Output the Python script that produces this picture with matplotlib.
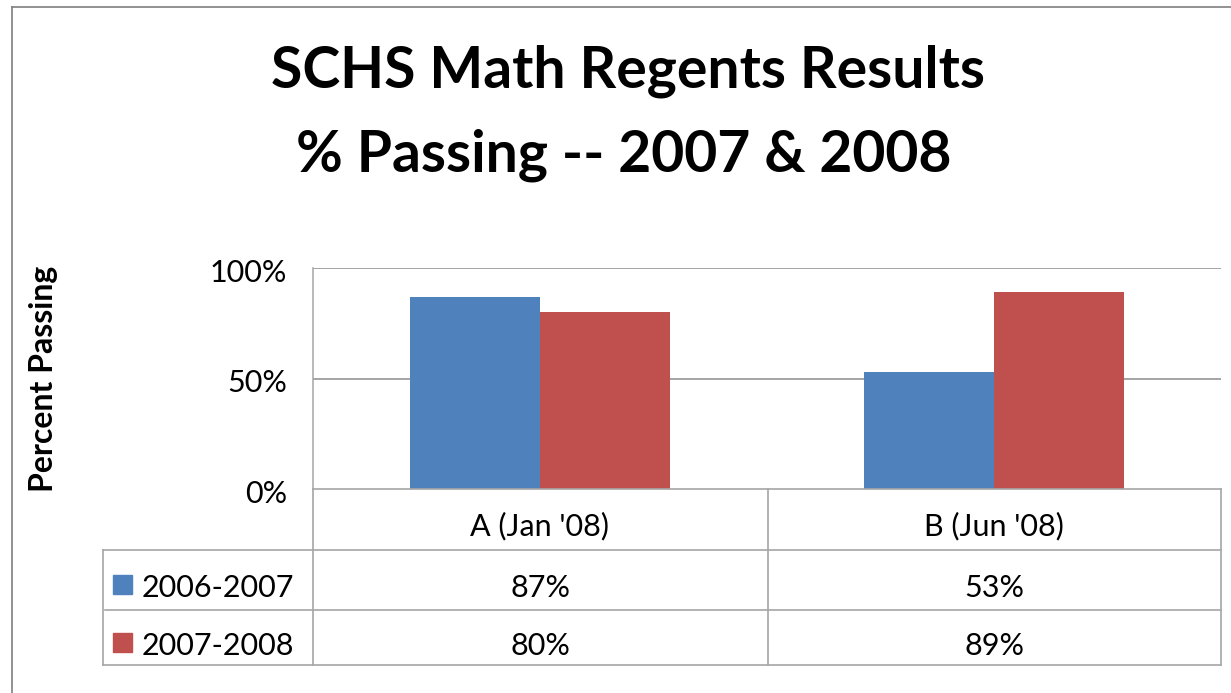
import matplotlib.pyplot as plt
import matplotlib.transforms as mtransforms
from matplotlib.lines import Line2D
from matplotlib.patches import Rectangle

categories = ["A (Jan '08)", "B (Jun '08)"]
series_names = ["2006-2007", "2007-2008"]
values_0607 = [87, 53]
values_0708 = [80, 89]
y_ticks = [0, 50, 100]
tick_labels = ["0%", "50%", "100%"]

colors = ["#4F81BD", "#C0504D"]
grid_col = "#8c8c8c"
table_col = "#a6a6a6"

plt.rcParams['font.family'] = ['Lato', 'DejaVu Sans']

W, H = 1231, 693
fig = plt.figure(figsize=(W / 100, H / 100), dpi=100)
fig.patch.set_facecolor('white')


def fx(px):
    return px / W


def fy(py):
    return 1 - py / H


# plot area in pixels
left, right, top, bottom = 313, 1221, 268, 489
ax = fig.add_axes([fx(left), fy(bottom), fx(right - left), (bottom - top) / H])

bar_w = 0.286
xs = list(range(len(categories)))
ax.bar([x - bar_w / 2 for x in xs], values_0607, width=bar_w, color=colors[0], zorder=3)
ax.bar([x + bar_w / 2 for x in xs], values_0708, width=bar_w, color=colors[1], zorder=3)

ax.set_xlim(-0.5, len(categories) - 0.5)
ax.set_ylim(0, 100)
ax.set_xticks([])
ax.set_yticks(y_ticks)
ax.set_yticklabels([])
ax.tick_params(axis='y', length=0)
for t in y_ticks[1:]:
    ax.axhline(t, color=grid_col, lw=1.1, zorder=1)
for s in ['top', 'right', 'bottom']:
    ax.spines[s].set_visible(False)
ax.spines['left'].set_color(table_col)
ax.spines['left'].set_linewidth(1.1)

# tick labels
ytr = mtransforms.blended_transform_factory(fig.transFigure, ax.transData)
ytr = mtransforms.offset_copy(ytr, fig=fig, y=-14, units='dots')
for t, lab in zip(y_ticks, tick_labels):
    fig.text(fx(287), t, lab, transform=ytr, ha='right', va='baseline',
             fontsize=22, color='black')

# outer chart border (left and top visible)
fig.add_artist(Line2D([fx(12), fx(12)], [fy(7), 0], transform=fig.transFigure,
                      color='#7f7f7f', lw=1.2))
fig.add_artist(Line2D([fx(12), 1], [fy(7), fy(7)], transform=fig.transFigure,
                      color='#7f7f7f', lw=1.2))

# title
fig.text(fx(628), fy(88), "SCHS Math Regents Results", ha='center', va='baseline',
         fontsize=41, fontweight='bold')
fig.text(fx(624), fy(172), "% Passing -- 2007 & 2008", ha='center', va='baseline',
         fontsize=41, fontweight='bold')

# y label
fig.text(fx(44), fy(379), "Percent Passing", rotation=90, ha='center', va='center',
         fontsize=23, fontweight='bold')

# data table
def hline(y, x0, x1):
    fig.add_artist(Line2D([fx(x0), fx(x1)], [fy(y), fy(y)], transform=fig.transFigure,
                          color=table_col, lw=1.2))


def vline(x, y0, y1):
    fig.add_artist(Line2D([fx(x), fx(x)], [fy(y0), fy(y1)], transform=fig.transFigure,
                          color=table_col, lw=1.2))


hline(489, left, right)
hline(550, 103, right)
hline(610, 105, right)
hline(665, 103, right)
vline(103, 550, 665)
vline(left, 489, 665)
vline(768, 489, 665)
vline(right, 489, 665)

xtr = mtransforms.blended_transform_factory(ax.transData, fig.transFigure)
for x, cat in zip(xs, categories):
    fig.text(x, fy(535), cat, transform=xtr, ha='center', va='baseline', fontsize=22)
row_base = [597, 655]
for vals, ry in zip([values_0607, values_0708], row_base):
    for x, v in zip(xs, vals):
        fig.text(x, fy(ry), f"{v}%", transform=xtr, ha='center', va='baseline', fontsize=22)

for name, col, ry in zip(series_names, colors, row_base):
    fig.add_artist(Rectangle((fx(113), fy(ry - 3)), fx(19), 19 / H,
                             transform=fig.transFigure, color=col))
    fig.text(fx(142), fy(ry), name, ha='left', va='baseline', fontsize=22)

fig.savefig('out.png', dpi=100)
